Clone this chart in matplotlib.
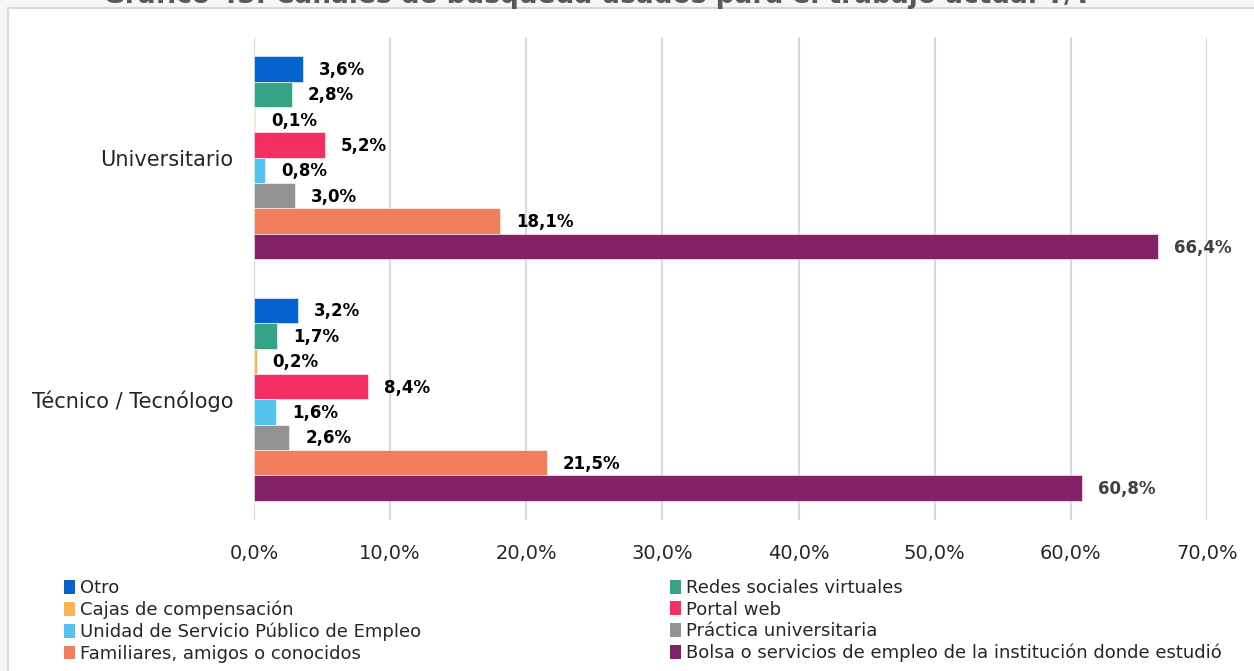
import matplotlib
matplotlib.use("Agg")
import matplotlib.pyplot as plt
from matplotlib.patches import Rectangle, Patch
import numpy as np

plt.rcParams['font.family'] = ['DejaVu Sans']

# data
grupos = ["Universitario", "Técnico / Tecnólogo"]
canales = ["Otro", "Redes sociales virtuales", "Cajas de compensación", "Portal web",
           "Unidad de Servicio Público de Empleo", "Práctica universitaria",
           "Familiares, amigos o conocidos",
           "Bolsa o servicios de empleo de la institución donde estudió"]
universitario = [3.6, 2.8, 0.1, 5.2, 0.8, 3.0, 18.1, 66.4]
tecnico = [3.2, 1.7, 0.2, 8.4, 1.6, 2.6, 21.5, 60.8]
colores = ["#0563CF", "#35A386", "#F8B553", "#F52F64",
           "#52C3EF", "#939393", "#F37E5D", "#842268"]
xticks = [0, 10, 20, 30, 40, 50, 60, 70]

fig = plt.figure(figsize=(12.54, 6.71), dpi=100)
fig.patch.set_facecolor("#f6f6f4")
# white panel with thin border
fig.patches.append(Rectangle((8/1254, -0.01), 1.02, 1 - 8/671 + 0.01, transform=fig.transFigure,
                             facecolor="white", edgecolor="#d9d9d9", linewidth=1.5, zorder=-5))
fig.text(597/1254, 1 - 3/671, "Gráfico 43. Canales de búsqueda usados para el trabajo actual T/T",
         ha="center", va="baseline", fontsize=19, fontweight="bold", color="#595959")

ax = fig.add_axes([254/1254, 1 - 520/671, (1207-254)/1254, (520-37)/671])
ax.set_facecolor("none")
ax.set_zorder(2)

n = len(canales)
h = 0.84 / n
valores = [universitario, tecnico]
for g, vals in enumerate(valores):
    for i, v in enumerate(vals):
        y = g - 0.42 + h * (i + 0.5)
        ax.barh(y, v, height=h, color=colores[i], edgecolor="white", linewidth=0.4, zorder=3)
        col = "#404040" if i == n - 1 else "black"
        ax.annotate(f"{v:.1f}%".replace(".", ","), (v, y), xytext=(16, -1),
                    textcoords="offset pixels", va="center", ha="left",
                    fontsize=12, fontweight="bold", color=col, zorder=4)

ax.set_xlim(0, 70)
ax.set_ylim(1.5, -0.5)
ax.set_yticks(range(len(grupos)))
ax.set_yticklabels(grupos, fontsize=15, color="#262626")
ax.set_xticks(xticks)
ax.set_xticklabels([f"{t:.1f}%".replace(".", ",") for t in xticks], fontsize=14, color="#262626")
ax.tick_params(length=0)
ax.tick_params(axis="y", pad=15)
ax.tick_params(axis="x", pad=17)
ax.grid(axis="x", color="#d9d9d9", linewidth=1.5, zorder=0)
ax.set_axisbelow(True)
for s in ax.spines.values():
    s.set_visible(False)

handles = [Patch(facecolor=c, edgecolor="none") for c in colores]
col1 = [0, 2, 4, 6]
col2 = [1, 3, 5, 7]
for idx, xpos in [(col1, 55/1254), (col2, 661/1254)]:
    fig.legend([handles[k] for k in idx], [canales[k] for k in idx], loc="upper left",
               bbox_to_anchor=(xpos, 1 - 570/671), frameon=False, fontsize=13,
               handlelength=0.6, handleheight=0.8, handletextpad=0.3,
               labelspacing=0.2, borderpad=0, labelcolor="#262626")

fig.savefig("out.png", dpi=100, facecolor=fig.get_facecolor())
